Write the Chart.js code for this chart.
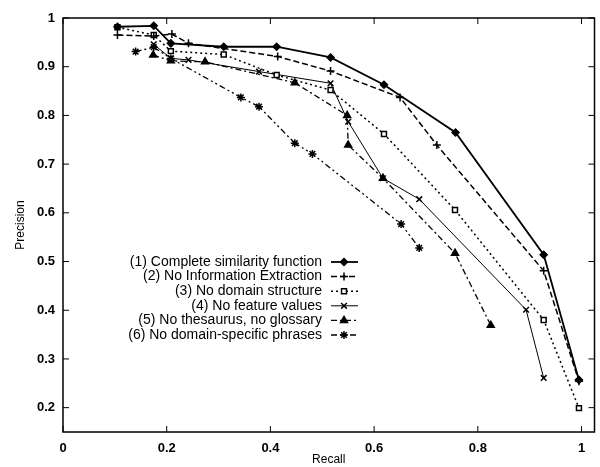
<!DOCTYPE html>
<html>
<head>
<meta charset="utf-8">
<script src="https://cdn.jsdelivr.net/npm/chart.js@4/dist/chart.umd.min.js"></script>
<style>
  html, body { margin: 0; padding: 0; background: #fff; }
  #wrap { width: 600px; height: 467px; }
</style>
</head>
<body>
<div id="wrap"><canvas id="prchart"></canvas></div>
<script>
// recall / precision
var labels = [
  "(1) Complete similarity function",
  "(2) No Information Extraction",
  "(3) No domain structure",
  "(4) No feature values",
  "(5) No thesaurus, no glossary",
  "(6) No domain-specific phrases"
];

var recall1    = [0.105, 0.175, 0.208, 0.310, 0.412, 0.516, 0.619, 0.757, 0.927, 0.995];
var precision1 = [0.982, 0.984, 0.948, 0.941, 0.941, 0.919, 0.863, 0.765, 0.514, 0.257];

var recall2    = [0.105, 0.175, 0.210, 0.242, 0.414, 0.516, 0.650, 0.721, 0.927, 0.995];
var precision2 = [0.965, 0.963, 0.967, 0.948, 0.921, 0.891, 0.837, 0.739, 0.481, 0.254];

var recall3    = [0.105, 0.175, 0.208, 0.310, 0.412, 0.516, 0.619, 0.756, 0.927, 0.995];
var precision3 = [0.981, 0.965, 0.932, 0.925, 0.883, 0.852, 0.762, 0.606, 0.380, 0.199];

var recall4    = [0.175, 0.208, 0.242, 0.378, 0.516, 0.550, 0.617, 0.687, 0.893, 0.927];
var precision4 = [0.946, 0.917, 0.914, 0.890, 0.866, 0.787, 0.671, 0.628, 0.401, 0.261];

var recall5    = [0.174, 0.208, 0.274, 0.447, 0.548, 0.550, 0.617, 0.756, 0.825];
var precision5 = [0.924, 0.912, 0.910, 0.867, 0.800, 0.739, 0.671, 0.517, 0.369];

var recall6    = [0.140, 0.175, 0.208, 0.343, 0.378, 0.447, 0.481, 0.652, 0.687];
var precision6 = [0.931, 0.940, 0.917, 0.837, 0.818, 0.743, 0.721, 0.577, 0.528];

var xTicks = [0, 0.2, 0.4, 0.6, 0.8, 1];
var yTicks = [0.2, 0.3, 0.4, 0.5, 0.6, 0.7, 0.8, 0.9, 1];

function pts(xs, ys) {
  var out = [];
  for (var i in xs) out.push({ x: xs[i], y: ys[i] });
  return out;
}

Chart.defaults.font.family = '"Liberation Sans", Arial, sans-serif';
Chart.defaults.color = '#000';

// box round the plot and inward tick marks like the original
var frame = {
  id: 'frame',
  beforeDatasetsDraw: function(chart) {
    var a = chart.chartArea, ctx = chart.ctx;
    var xs = chart.scales.x, ys = chart.scales.y;
    ctx.save();
    ctx.strokeStyle = '#000';
    ctx.lineWidth = 1.5;
    ctx.strokeRect(a.left, a.top, a.right - a.left, a.bottom - a.top);
    ctx.lineWidth = 1;
    ctx.beginPath();
    xTicks.forEach(function(v) {
      var px = xs.getPixelForValue(v);
      ctx.moveTo(px, a.bottom); ctx.lineTo(px, a.bottom - 6);
      ctx.moveTo(px, a.top); ctx.lineTo(px, a.top + 6);
    });
    yTicks.forEach(function(v) {
      var py = ys.getPixelForValue(v);
      ctx.moveTo(a.left, py); ctx.lineTo(a.left + 6, py);
      ctx.moveTo(a.right, py); ctx.lineTo(a.right - 6, py);
    });
    ctx.stroke();
    ctx.restore();
  }
};

// gnuplot style key: right aligned text, sample on the right
var key = {
  id: 'key',
  afterDraw: function(chart) {
    var ctx = chart.ctx;
    ctx.save();
    ctx.font = '14px "Liberation Sans", Arial, sans-serif';
    ctx.textAlign = 'right';
    ctx.textBaseline = 'middle';
    chart.data.datasets.forEach(function(ds, i) {
      var y = 262 + i * 14.6;
      ctx.fillStyle = '#000';
      ctx.fillText(ds.label, 322, y);
      ctx.strokeStyle = '#000';
      ctx.lineWidth = ds.borderWidth;
      ctx.setLineDash(ds.borderDash || []);
      ctx.beginPath();
      ctx.moveTo(331, y); ctx.lineTo(358, y);
      ctx.stroke();
      ctx.setLineDash([]);
      ctx.fillStyle = ds.pointBackgroundColor;
      ctx.lineWidth = ds.pointBorderWidth;
      Chart.helpers.drawPoint(ctx, {
        pointStyle: ds.pointStyle, radius: ds.pointRadius,
        rotation: 0, borderWidth: ds.pointBorderWidth
      }, 344, y);
    });
    ctx.restore();
  }
};

function series(i, xs, ys, dash, width, style, radius, fill) {
  return {
    label: labels[i],
    data: pts(xs, ys),
    borderColor: '#000',
    borderWidth: width,
    borderDash: dash,
    pointStyle: style,
    pointRadius: radius,
    pointBorderWidth: 1.5,
    pointBorderColor: '#000',
    pointBackgroundColor: fill,
    tension: 0,
    fill: false
  };
}

var prctx = document.getElementById('prchart');

var prGraph = new Chart(prctx, {
  type: 'line',
  data: {
    datasets: [
      series(0, recall1, precision1, [], 1.8, 'rectRot', 3.5, '#000'),
      series(1, recall2, precision2, [6, 3], 1.5, 'cross', 4, '#000'),
      series(2, recall3, precision3, [2, 3], 1.5, 'rect', 3.5, '#fff'),
      series(3, recall4, precision4, [], 1, 'crossRot', 4, '#000'),
      series(4, recall5, precision5, [6, 3, 2, 3], 1.3, 'triangle', 4, '#000'),
      series(5, recall6, precision6, [6, 3, 2, 3, 2, 3], 1.3, 'star', 4, '#000')
    ]
  },
  options: {
    responsive: true,
    maintainAspectRatio: false,
    animation: false,
    layout: { padding: { top: 18, right: 0, left: 0, bottom: 0 } },
    plugins: {
      legend: { display: false },
      tooltip: { enabled: false }
    },
    scales: {
      x: {
        type: 'linear',
        min: 0,
        max: 1.025,
        grid: { display: false, drawTicks: false },
        border: { display: false },
        afterBuildTicks: function(scale) {
          scale.ticks = xTicks.map(function(v) { return { value: v }; });
        },
        afterFit: function(scale) { scale.height = 35; },
        ticks: {
          padding: 9,
          maxRotation: 0,
          font: { size: 13, weight: 'bold' },
          callback: function(v) { return String(v); }
        },
        title: {
          display: true,
          text: 'Recall',
          font: { size: 12 },
          padding: { top: 0, bottom: 0 }
        }
      },
      y: {
        type: 'linear',
        min: 0.15,
        max: 1,
        grid: { display: false, drawTicks: false },
        border: { display: false },
        afterBuildTicks: function(scale) {
          scale.ticks = yTicks.map(function(v) { return { value: v }; });
        },
        afterFit: function(scale) { scale.width = 63; },
        ticks: {
          padding: 8,
          font: { size: 13, weight: 'bold' },
          callback: function(v) { return String(v); }
        },
        title: {
          display: true,
          text: 'Precision',
          font: { size: 12 },
          padding: { top: 13, bottom: 0 }
        }
      }
    }
  },
  plugins: [frame, key]
});
</script>
</body>
</html>
